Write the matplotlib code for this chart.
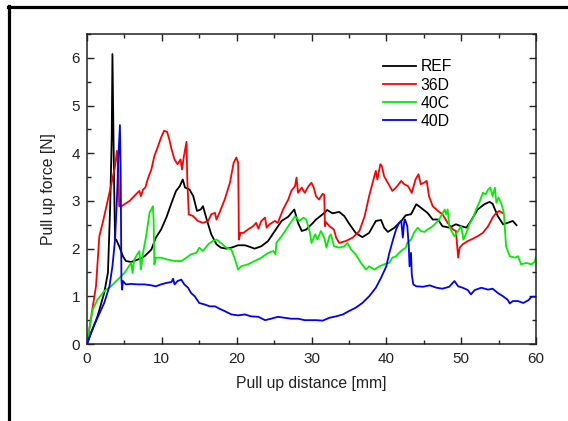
import matplotlib
matplotlib.use("Agg")
import matplotlib.pyplot as plt
from matplotlib.lines import Line2D
from matplotlib.ticker import MultipleLocator

plt.rcParams['font.family'] = ['Liberation Sans', 'DejaVu Sans']

labels = ["REF", "36D", "40C", "40D"]
colors = ["#000000", "#ff0000", "#00ee00", "#0000ff"]

ref_x = [0, 1.4, 2.3, 2.8, 3.1, 3.3, 3.4, 3.6, 3.75, 3.9, 4.3, 4.8, 5.2, 5.9, 6.8, 7.7, 8.6, 9.2, 9.9,
         10.6, 11.3, 11.9, 12.4, 12.8, 13.1, 13.7, 14.2, 14.7, 15.2, 15.5, 16.0, 16.6, 17.3, 17.9, 18.6,
         19.3, 20.2, 21.1, 21.7, 22.4, 23.3, 24.2, 25.1, 26.0, 26.9, 27.7, 28.2, 28.7, 29.3, 30.2, 30.6,
         31.5, 32.1, 32.8, 33.7, 34.4, 35.0, 35.9, 36.8, 37.7, 38.6, 39.3, 39.7, 40.2, 41.1, 42.0, 42.6,
         43.3, 44.0, 44.6, 45.5, 46.2, 46.9, 47.5, 48.4, 49.3, 50.0, 50.7, 51.3, 52.2, 53.1, 53.8, 54.2,
         54.9, 55.6, 56.2, 56.9, 57.4]
ref_y = [0, 0.58, 1.07, 1.5, 2.9, 4.3, 6.08, 3.6, 2.19, 2.19, 2.05, 1.84, 1.74, 1.72, 1.77, 1.84, 1.98,
         2.23, 2.40, 2.65, 2.96, 3.21, 3.31, 3.45, 3.28, 3.24, 3.10, 2.79, 2.82, 2.89, 2.61, 2.30, 2.09,
         2.02, 2.0, 2.02, 2.07, 2.07, 2.04, 2.0, 2.05, 2.16, 2.37, 2.58, 2.67, 2.82, 2.54, 2.37, 2.40,
         2.54, 2.61, 2.72, 2.81, 2.74, 2.77, 2.68, 2.53, 2.33, 2.24, 2.33, 2.58, 2.60, 2.44, 2.35, 2.44,
         2.58, 2.70, 2.72, 2.93, 2.86, 2.75, 2.61, 2.61, 2.47, 2.44, 2.51, 2.47, 2.44, 2.58, 2.82, 2.93,
         2.98, 2.94, 2.68, 2.51, 2.54, 2.58, 2.49]

d36_x = [0, 0.5, 1.2, 1.65, 2.1, 2.5, 3.2, 3.75, 4.0, 4.2, 4.3, 4.55, 5.0, 5.7, 6.3, 7.0, 7.2, 7.5, 7.8,
         8.1, 8.6, 9.0, 9.5, 9.9, 10.3, 10.7, 11.0, 11.3, 11.7, 12.1, 12.5, 12.7, 12.95, 13.3, 13.4, 13.6,
         14.2, 14.8, 15.5, 16.2, 16.6, 17.1, 17.3, 17.7, 18.4, 19.1, 19.6, 19.95, 20.2, 20.3, 20.5, 20.9,
         21.5, 22.2, 22.6, 22.9, 23.3, 23.8, 24.0, 24.4, 25.1, 25.5, 26.2, 26.9, 27.3, 27.8, 28.0, 28.2,
         28.7, 29.1, 29.6, 30.0, 30.3, 30.6, 31.0, 31.5, 31.7, 31.8, 31.9, 32.4, 33.0, 33.3, 33.7, 34.6,
         35.5, 36.4, 37.1, 37.7, 38.4, 38.6, 38.8, 39.2, 39.4, 39.7, 40.2, 40.8, 41.3, 42.0, 42.4, 42.9,
         43.4, 43.9, 44.3, 44.6, 45.0, 45.4, 45.7, 46.2, 46.9, 47.5, 48.2, 48.9, 49.3, 49.6, 49.8, 50.2,
         50.9, 51.6, 52.2, 52.9, 53.6, 54.2, 54.7, 55.1, 55.5]
d36_y = [0, 0.51, 1.21, 2.26, 2.54, 2.82, 3.31, 3.73, 4.05, 3.66, 2.89, 2.88, 2.93, 3.0, 3.10, 3.21,
         3.10, 3.24, 3.28, 3.45, 3.66, 3.94, 4.15, 4.33, 4.47, 4.45, 4.29, 4.08, 3.87, 3.77, 3.87, 3.66,
         3.94, 4.24, 3.45, 2.72, 2.68, 2.58, 2.54, 2.58, 2.72, 2.75, 2.61, 2.75, 3.03, 3.38, 3.80, 3.91,
         3.80, 2.19, 2.33, 2.33, 2.40, 2.47, 2.54, 2.42, 2.58, 2.65, 2.44, 2.51, 2.58, 2.54, 2.82, 3.03,
         3.21, 3.31, 3.49, 3.17, 3.28, 3.17, 3.31, 3.38, 3.28, 3.10, 3.03, 3.15, 3.13, 2.47, 2.56, 2.47,
         2.40, 2.23, 2.12, 2.16, 2.23, 2.37, 2.68, 3.10, 3.52, 3.63, 3.45, 3.77, 3.73, 3.52, 3.38, 3.21,
         3.28, 3.42, 3.35, 3.31, 3.17, 3.45, 3.56, 3.35, 3.38, 3.42, 3.10, 2.89, 2.79, 2.72, 2.54, 2.40,
         2.37, 1.81, 2.02, 2.09, 2.16, 2.21, 2.26, 2.33, 2.47, 2.65, 2.75, 2.79, 2.75]

c40_x = [0, 0.3, 0.76, 1.4, 2.3, 3.2, 4.1, 5.0, 5.9, 6.1, 6.3, 7.0, 7.2, 7.5, 7.9, 8.35, 8.6, 8.8, 8.9,
         9.0, 9.2, 9.9, 10.8, 11.7, 12.6, 13.3, 13.9, 14.6, 15.0, 15.5, 16.2, 16.8, 17.3, 17.9, 18.6, 19.3,
         19.7, 20.2, 20.6, 21.5, 22.4, 23.3, 24.2, 24.9, 25.2, 25.3, 26.0, 26.9, 27.8, 28.4, 28.9, 29.3,
         29.8, 30.0, 30.5, 30.8, 31.25, 31.7, 32.0, 32.4, 32.6, 33.0, 33.7, 34.4, 34.8, 35.3, 35.9, 36.6,
         37.3, 37.7, 38.4, 39.1, 39.7, 40.4, 40.8, 41.3, 41.7, 42.2, 42.6, 42.8, 43.3, 43.7, 44.2, 44.6,
         45.1, 45.5, 46.2, 46.9, 47.3, 47.8, 48.0, 48.2, 48.4, 48.7, 49.1, 49.6, 50.0, 50.3, 50.7, 51.1,
         51.6, 52.0, 52.5, 52.9, 53.3, 53.6, 53.9, 54.2, 54.5, 54.7, 55.0, 55.4, 55.7, 56.0, 56.5, 57.2,
         57.6, 58.0, 58.7, 59.4, 59.8, 60.0]
c40_y = [0, 0.30, 0.72, 0.93, 1.11, 1.21, 1.35, 1.49, 1.70, 1.49, 1.77, 1.95, 1.56, 1.92, 2.26, 2.75,
         2.82, 2.89, 2.61, 1.67, 1.81, 1.81, 1.77, 1.74, 1.74, 1.81, 1.88, 1.91, 2.02, 1.95, 2.09, 2.16,
         2.19, 2.12, 2.02, 1.98, 1.81, 1.56, 1.63, 1.67, 1.74, 1.81, 1.91, 1.95, 1.88, 2.12, 2.26, 2.47,
         2.68, 2.58, 2.65, 2.61, 2.33, 2.12, 2.30, 2.19, 2.37, 2.23, 2.02, 2.26, 2.30, 2.05, 2.02, 2.05,
         2.12, 1.98, 1.88, 1.70, 1.56, 1.63, 1.56, 1.63, 1.67, 1.70, 1.81, 1.84, 1.91, 1.98, 2.02, 2.12,
         2.19, 2.33, 2.44, 2.37, 2.35, 2.40, 2.47, 2.58, 2.68, 2.82, 2.72, 2.82, 2.47, 2.37, 2.26, 2.37,
         2.47, 2.19, 2.33, 2.51, 2.65, 2.82, 3.00, 3.17, 3.14, 3.24, 3.28, 3.10, 3.28, 2.96, 3.07, 2.93,
         2.75, 2.05, 1.84, 1.81, 1.84, 1.67, 1.70, 1.67, 1.72, 1.82]

d40_x = [0, 0.5, 1.4, 2.3, 3.0, 3.4, 3.75, 4.0, 4.2, 4.4, 4.5, 4.6, 4.7, 4.8, 5.2, 5.9, 6.8, 7.7, 8.6,
         9.2, 9.9, 10.6, 11.3, 11.5, 11.7, 12.1, 12.6, 13.0, 13.5, 13.9, 14.4, 15.0, 15.7, 16.4, 17.1, 17.7,
         18.4, 19.3, 20.2, 21.1, 21.9, 22.9, 23.8, 24.6, 25.5, 26.4, 27.3, 28.2, 29.1, 30.0, 30.6, 31.5,
         32.4, 33.3, 34.2, 35.0, 35.9, 36.8, 37.7, 38.6, 39.3, 40.0, 40.4, 40.9, 41.3, 41.7, 42.0, 42.2,
         42.4, 42.5, 42.8, 43.0, 43.1, 43.3, 43.4, 43.6, 44.0, 44.9, 45.8, 46.7, 47.5, 48.4, 49.1, 49.6,
         50.2, 50.9, 51.3, 51.8, 52.7, 53.6, 54.2, 54.9, 55.6, 56.2, 56.5, 56.9, 57.6, 58.3, 59.0, 59.4,
         60.0]
d40_y = [0, 0.23, 0.55, 0.86, 1.21, 1.63, 2.19, 3.03, 3.94, 4.59, 3.59, 1.35, 1.14, 1.32, 1.25, 1.26,
         1.25, 1.25, 1.23, 1.21, 1.25, 1.28, 1.30, 1.37, 1.25, 1.32, 1.35, 1.25, 1.18, 1.07, 1.00, 0.86,
         0.83, 0.79, 0.79, 0.74, 0.69, 0.62, 0.60, 0.62, 0.58, 0.57, 0.50, 0.53, 0.57, 0.55, 0.53, 0.53,
         0.50, 0.50, 0.50, 0.49, 0.55, 0.58, 0.62, 0.69, 0.76, 0.86, 1.00, 1.18, 1.39, 1.63, 1.91, 2.19,
         2.40, 2.54, 2.58, 2.23, 2.58, 2.61, 2.47, 2.05, 1.63, 1.91, 1.46, 1.25, 1.21, 1.20, 1.23, 1.18,
         1.16, 1.20, 1.32, 1.21, 1.18, 1.13, 1.04, 1.13, 1.18, 1.14, 1.16, 1.07, 1.00, 0.93, 0.85, 0.90,
         0.90, 0.86, 0.92, 0.99, 0.99]

series = [(ref_x, ref_y), (d36_x, d36_y), (c40_x, c40_y), (d40_x, d40_y)]

W, H = 568, 421
fig = plt.figure(figsize=(W / 100, H / 100), dpi=100)
ax = fig.add_axes([87 / W, 1 - 344 / H, (536 - 87) / W, (344 - 34) / H])

for (xs, ys), lab, col in zip(series, labels, colors):
    ax.plot(xs, ys, color=col, lw=1.3, label=lab)

ax.set_xlim(0, 60)
ax.set_ylim(0, 6.5)
ax.xaxis.set_major_locator(MultipleLocator(10))
ax.xaxis.set_minor_locator(MultipleLocator(5))
ax.yaxis.set_major_locator(MultipleLocator(1))
ax.yaxis.set_minor_locator(MultipleLocator(0.5))
ax.tick_params(which='both', direction='in', top=True, right=True, width=1.0, color='#222222')
ax.tick_params(which='major', length=5)
ax.tick_params(which='minor', length=3)
ax.tick_params(axis='y', which='major', pad=5, labelsize=11, labelcolor='#222222')
ax.tick_params(axis='x', which='major', pad=6, labelsize=11, labelcolor='#222222')
for sp in ax.spines.values():
    sp.set_linewidth(1.1)
    sp.set_color('#222222')

ax.set_xlabel("Pull up distance [mm]", fontsize=11.3, color='#222222', labelpad=7)
ax.set_ylabel("Pull up force [N]", fontsize=11.3, color='#222222', labelpad=11)

ax.legend(loc='upper left', bbox_to_anchor=(0.659, 0.918), frameon=False, fontsize=11.3,
          handlelength=2.1, handletextpad=0.3, labelspacing=0.2, borderpad=0, borderaxespad=0)

# figure border (only left and top visible in reference)
fig.add_artist(Line2D([9 / W, 9 / W], [0, 1 - 6 / H], transform=fig.transFigure, color='black', lw=2.3))
fig.add_artist(Line2D([8 / W, 1], [1 - 6.5 / H, 1 - 6.5 / H], transform=fig.transFigure, color='black', lw=2.3))

fig.savefig("out.png", dpi=100)
